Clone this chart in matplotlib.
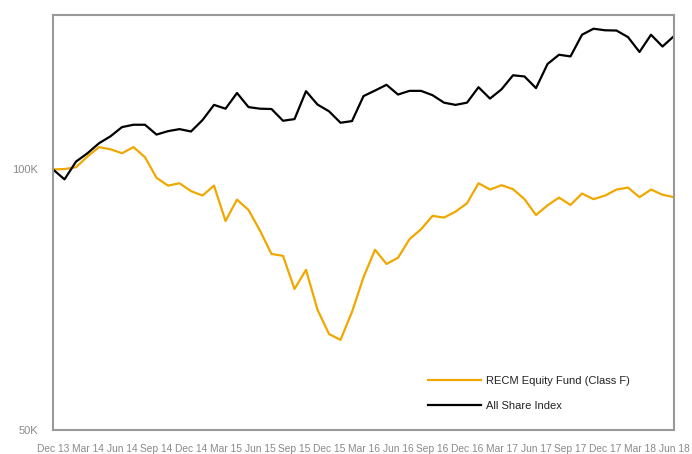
import numpy as np
import matplotlib
matplotlib.use('Agg')
import matplotlib.pyplot as plt
from matplotlib.ticker import FixedLocator, NullLocator

# monthly values, Dec 2013 = 100K (in thousands)
fund = [100.0, 100.1, 100.6, 103.5, 106.1, 105.5, 104.4, 106.1, 103.3, 97.8,
        95.8, 96.4, 94.4, 93.3, 95.8, 87.2, 92.3, 89.8, 85.0, 79.9,
        79.5, 72.8, 76.6, 68.9, 64.6, 63.6, 68.5, 75.1, 80.8, 77.8,
        79.1, 83.1, 85.3, 88.4, 88.0, 89.4, 91.4, 96.4, 94.8, 95.9,
        94.9, 92.4, 88.6, 90.9, 92.8, 91.0, 93.8, 92.4, 93.3, 94.8,
        95.3, 92.9, 94.8, 93.5, 92.9]
index = [100.0, 97.4, 102.1, 104.4, 107.2, 109.2, 111.9, 112.6, 112.6, 109.7,
         110.7, 111.3, 110.6, 114.0, 118.7, 117.5, 122.5, 118.0, 117.5, 117.4,
         113.8, 114.3, 123.1, 118.8, 116.7, 113.2, 113.7, 121.5, 123.3, 125.2,
         122.0, 123.2, 123.2, 121.8, 119.4, 118.7, 119.4, 124.4, 120.7, 123.7,
         128.4, 128.0, 124.1, 132.3, 135.6, 135.0, 143.0, 145.3, 144.7, 144.6,
         142.1, 136.6, 143.0, 138.6, 142.5]

tick_labels = ['Dec 13', 'Mar 14', 'Jun 14', 'Sep 14', 'Dec 14', 'Mar 15', 'Jun 15',
               'Sep 15', 'Dec 15', 'Mar 16', 'Jun 16', 'Sep 16', 'Dec 16', 'Mar 17',
               'Jun 17', 'Sep 17', 'Dec 17', 'Mar 18', 'Jun 18']
y_ticks = [50, 100]
y_labels = ['50K', '100K']

plt.rcParams['font.family'] = ['Liberation Sans', 'DejaVu Sans']

fig = plt.figure(figsize=(6.92, 4.54), dpi=100)
ax = fig.add_axes([0.0766, 0.0518, 0.8974, 0.9141])

x = np.arange(len(fund))
ax.plot(x, fund, color='#F0A800', lw=1.6, label='RECM Equity Fund (Class F)')
ax.plot(x, index, color='#000000', lw=1.6, label='All Share Index')

ax.set_yscale('log')
ax.set_ylim(50, 150.5)
ax.set_xlim(0, len(fund) - 1)
ax.yaxis.set_major_locator(FixedLocator(y_ticks))
ax.yaxis.set_minor_locator(NullLocator())
ax.set_yticklabels(y_labels)
ax.set_xticks(np.arange(0, len(fund), 3))
ax.set_xticklabels(tick_labels)

ax.tick_params(axis='both', length=0, labelcolor='#8a8a8a')
ax.tick_params(axis='x', pad=10, labelsize=7.4)
ax.tick_params(axis='y', pad=11, labelsize=8)

for s in ax.spines.values():
    s.set_color('#999999')
    s.set_linewidth(1.5)

ax.legend(loc='upper left', bbox_to_anchor=(0.588, 0.155), frameon=False,
          fontsize=8, handlelength=4.8, handletextpad=0.45, labelspacing=1.3,
          labelcolor='#222222')

fig.savefig('out.png', dpi=100)
